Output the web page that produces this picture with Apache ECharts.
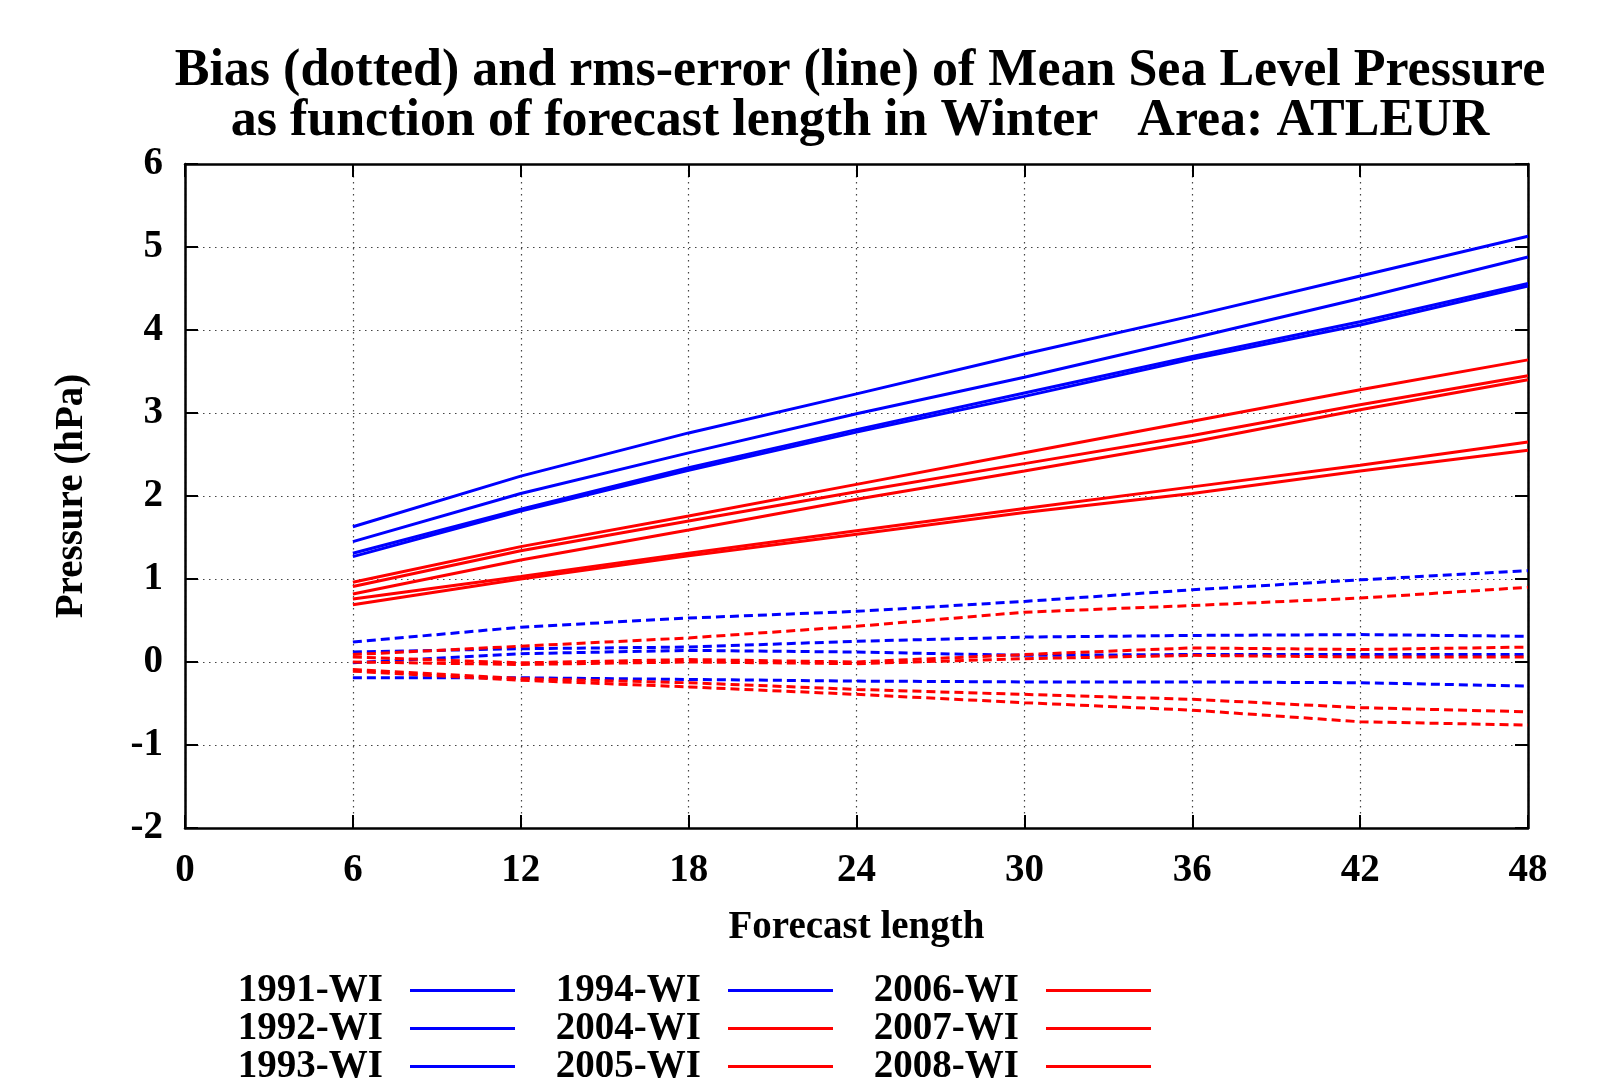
<!DOCTYPE html>
<html>
<head>
<meta charset="utf-8">
<script src="https://cdn.jsdelivr.net/npm/echarts@6/dist/echarts.min.js"></script>
<style>
  html, body { margin: 0; padding: 0; background: #fff; }
  #chart { width: 1606px; height: 1078px; }
</style>
</head>
<body>
<div id="chart"></div>
<script>
// ---- data ----
const forecastLength = [6, 12, 18, 24, 30, 36, 42, 48];
const xTicks = [0, 6, 12, 18, 24, 30, 36, 42, 48];
const yTicks = [-2, -1, 0, 1, 2, 3, 4, 5, 6];
const seasons = ['1991-WI', '1992-WI', '1993-WI', '1994-WI', '2004-WI', '2005-WI', '2006-WI', '2007-WI', '2008-WI'];

// rms-error (solid lines)
const rms1991 = [1.63, 2.24, 2.76, 3.23, 3.71, 4.17, 4.65, 5.13];
const rms1992 = [1.45, 2.03, 2.52, 2.99, 3.43, 3.90, 4.38, 4.88];
const rms1993 = [1.31, 1.84, 2.34, 2.80, 3.24, 3.68, 4.10, 4.56];
const rms1994 = [1.27, 1.82, 2.31, 2.77, 3.20, 3.65, 4.06, 4.53];
const rms2004 = [0.96, 1.39, 1.76, 2.14, 2.52, 2.90, 3.28, 3.64];
const rms2005 = [0.91, 1.34, 1.70, 2.05, 2.39, 2.73, 3.10, 3.45];
const rms2006 = [0.82, 1.23, 1.59, 1.96, 2.30, 2.65, 3.04, 3.40];
const rms2007 = [0.76, 1.03, 1.31, 1.58, 1.85, 2.11, 2.37, 2.65];
const rms2008 = [0.69, 1.00, 1.28, 1.54, 1.80, 2.03, 2.30, 2.55];

// bias (dashed lines)
const bias1991 = [0.24, 0.42, 0.53, 0.61, 0.73, 0.87, 0.99, 1.10];
const bias1992 = [0.12, 0.16, 0.18, 0.25, 0.30, 0.32, 0.33, 0.31];
const bias1993 = [-0.01, 0.10, 0.14, 0.12, 0.08, 0.09, 0.09, 0.09];
const bias1994 = [-0.19, -0.19, -0.21, -0.23, -0.24, -0.24, -0.25, -0.29];
const bias2004 = [0.09, 0.19, 0.29, 0.43, 0.60, 0.68, 0.77, 0.90];
const bias2005 = [0.06, -0.01, 0.03, 0.00, 0.09, 0.17, 0.15, 0.18];
const bias2006 = [0.00, -0.03, 0.00, -0.02, 0.04, 0.08, 0.06, 0.06];
const bias2007 = [-0.09, -0.20, -0.25, -0.33, -0.39, -0.45, -0.55, -0.60];
const bias2008 = [-0.11, -0.22, -0.30, -0.39, -0.49, -0.58, -0.72, -0.76];

const rmsList = [rms1991, rms1992, rms1993, rms1994, rms2004, rms2005, rms2006, rms2007, rms2008];
const biasList = [bias1991, bias1992, bias1993, bias1994, bias2004, bias2005, bias2006, bias2007, bias2008];

// ---- styling ----
const FONT = '"Liberation Serif", "DejaVu Serif", serif';
const BLUE = '#0000ff';
const RED = '#ff0000';
const colorOf = name => (parseInt(name, 10) < 2000 ? BLUE : RED);

function pairs(ys) { return forecastLength.map((x, i) => [x, ys[i]]); }

const series = [];
seasons.forEach((name, i) => {
  series.push({
    name: name,
    type: 'line',
    data: pairs(rmsList[i]),
    symbol: 'none',
    silent: true,
    animation: false,
    color: colorOf(name),
    lineStyle: { color: colorOf(name), width: 3, type: 'solid' }
  });
});
seasons.forEach((name, i) => {
  series.push({
    name: name + ' bias',
    type: 'line',
    data: pairs(biasList[i]),
    symbol: 'none',
    silent: true,
    animation: false,
    color: colorOf(name),
    lineStyle: { color: colorOf(name), width: 3, type: [9, 5] }
  });
});

const labelFont = { fontFamily: FONT, fontWeight: 'bold', fontSize: 39, color: '#000' };
const axisLineStyle = { color: '#000', width: 2.5 };
const tickStyle = { show: true, inside: true, length: 13, lineStyle: { color: '#000', width: 2 } };
const gridLine = { show: true, lineStyle: { color: '#444', width: 1.2, type: [1.5, 4.5] } };

function legendCol(names, rightPx) {
  return {
    data: names,
    orient: 'vertical',
    right: rightPx,
    top: 971,
    height: 300,
    padding: 0,
    align: 'right',
    icon: 'rect',
    itemWidth: 105,
    itemHeight: 3,
    itemGap: -1,
    selectedMode: false,
    textStyle: Object.assign({}, labelFont, { padding: [0, 22, 0, 0] })
  };
}

const option = {
  backgroundColor: '#fff',
  animation: false,
  title: {
    text: 'Bias (dotted) and rms-error (line) of Mean Sea Level Pressure\nas function of forecast length in Winter   Area: ATLEUR',
    left: 855,
    textAlign: 'center',
    top: 42,
    textStyle: { fontFamily: FONT, fontWeight: 'bold', fontSize: 52, lineHeight: 50, color: '#000' }
  },
  grid: { left: 185, right: 78, top: 164, bottom: 250, containLabel: false },
  legend: [
    legendCol(seasons.slice(0, 3), 1091),
    legendCol(seasons.slice(3, 6), 773),
    legendCol(seasons.slice(6, 9), 455)
  ],
  xAxis: [
    {
      type: 'value', min: xTicks[0], max: xTicks[xTicks.length - 1], interval: 6,
      name: 'Forecast length', nameLocation: 'middle', nameGap: 80,
      nameTextStyle: labelFont,
      axisLine: { show: true, onZero: false, lineStyle: axisLineStyle },
      axisTick: tickStyle,
      axisLabel: Object.assign({ margin: 23 }, labelFont),
      splitLine: gridLine
    },
    {
      type: 'value', position: 'top', min: xTicks[0], max: xTicks[xTicks.length - 1], interval: 6,
      axisLine: { show: true, onZero: false, lineStyle: axisLineStyle },
      axisTick: tickStyle,
      axisLabel: { show: false },
      splitLine: { show: false }
    }
  ],
  yAxis: [
    {
      type: 'value', min: yTicks[0], max: yTicks[yTicks.length - 1], interval: 1,
      name: 'Pressure (hPa)', nameLocation: 'middle', nameGap: 94, nameRotate: 90,
      nameTextStyle: labelFont,
      axisLine: { show: true, onZero: false, lineStyle: axisLineStyle },
      axisTick: tickStyle,
      axisLabel: Object.assign({ margin: 22 }, labelFont),
      splitLine: gridLine
    },
    {
      type: 'value', position: 'right', min: yTicks[0], max: yTicks[yTicks.length - 1], interval: 1,
      axisLine: { show: true, onZero: false, lineStyle: axisLineStyle },
      axisTick: tickStyle,
      axisLabel: { show: false },
      splitLine: { show: false }
    }
  ],
  series: series
};

const chart = echarts.init(document.getElementById('chart'), null, { renderer: 'canvas' });
chart.setOption(option);
</script>
</body>
</html>
